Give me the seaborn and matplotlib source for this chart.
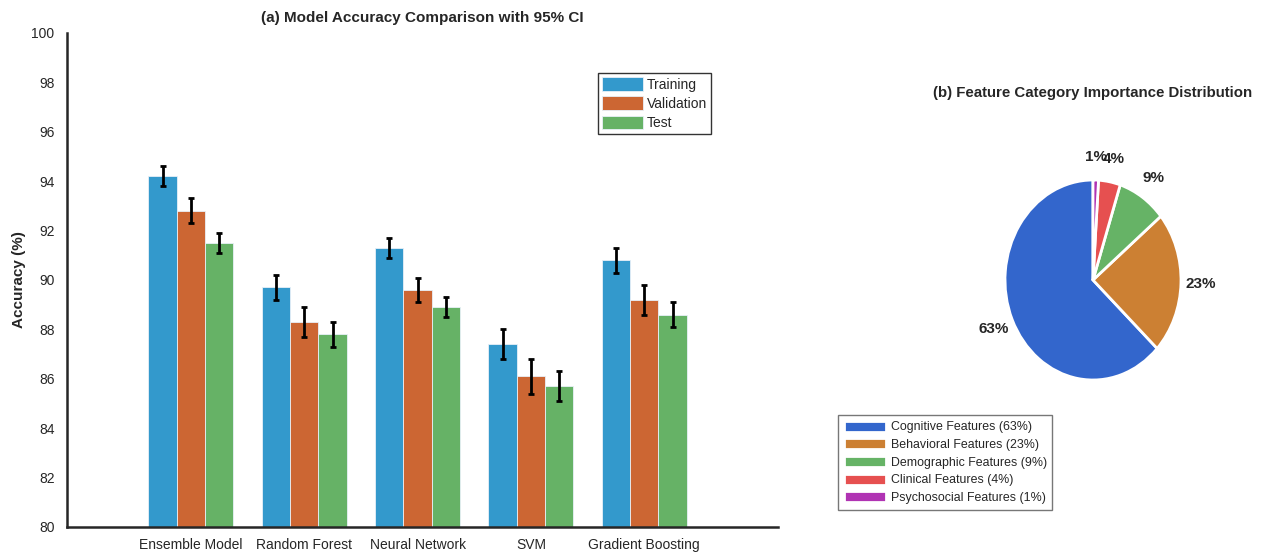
import numpy as np
import pandas as pd
import matplotlib
matplotlib.use("Agg")
import matplotlib.pyplot as plt
import seaborn as sns

# --- data ---
models = ["Ensemble Model", "Random Forest", "Neural Network", "SVM", "Gradient Boosting"]
splits = ["Training", "Validation", "Test"]
acc_train = [94.2, 89.7, 91.3, 87.4, 90.8]
acc_val = [92.8, 88.3, 89.6, 86.1, 89.2]
acc_test = [91.5, 87.8, 88.9, 85.7, 88.6]
ci_train = [0.4, 0.5, 0.4, 0.6, 0.5]
ci_val = [0.5, 0.6, 0.5, 0.7, 0.6]
ci_test = [0.4, 0.5, 0.4, 0.6, 0.5]

categories = ["Cognitive Features", "Behavioral Features", "Demographic Features",
              "Clinical Features", "Psychosocial Features"]
importance = [63, 23, 9, 4, 1]

bar_colors = {"Training": "#3399cc", "Validation": "#cc6633", "Test": "#66b266"}
pie_colors = ["#3366cc", "#cc8033", "#66b366", "#e65050", "#b033b3"]

# --- style ---
sns.set_style("white")
plt.rcParams['font.family'] = ['Liberation Sans', 'DejaVu Sans']

df = pd.DataFrame({
    "model": models * 3,
    "split": [s for s in splits for _ in models],
    "acc": acc_train + acc_val + acc_test,
})
ci = {"Training": ci_train, "Validation": ci_val, "Test": ci_test}

fig = plt.figure(figsize=(12.61, 5.52), dpi=100)

# --- (a) bar chart ---
ax = fig.add_axes([67 / 1261, 25 / 552, 711 / 1261, 494 / 552])
sns.barplot(data=df, x="model", y="acc", hue="split", order=models, hue_order=splits,
            palette=bar_colors, width=0.75, errorbar=None, saturation=1,
            edgecolor="#e8f0f8", linewidth=0.6, ax=ax)

for cont, s in zip(ax.containers, splits):
    xs = [p.get_x() + p.get_width() / 2 for p in cont.patches]
    ys = [p.get_height() for p in cont.patches]
    ax.errorbar(xs, ys, yerr=ci[s], fmt="none", ecolor="black", elinewidth=2,
                capsize=2.5, capthick=2, zorder=5)

ax.set_ylim(80, 100)
ax.set_yticks(np.arange(80, 101, 2))
ax.set_xlim(-1.094, 5.18)
ax.set_xlabel("")
ax.set_ylabel("Accuracy (%)", fontsize=11, fontweight="bold", labelpad=4)
ax.set_title("(a) Model Accuracy Comparison with 95% CI", fontsize=11, fontweight="bold", pad=8)
sns.despine(ax=ax)
for sp in ["left", "bottom"]:
    ax.spines[sp].set_linewidth(1.8)
    ax.spines[sp].set_color("#262626")
ax.tick_params(axis="both", direction="in", length=5, width=1.5, labelsize=10,
               colors="#262626", labelcolor="#262626")
ax.tick_params(axis="x", pad=8)
ax.tick_params(axis="y", pad=9)

sns.move_legend(ax, loc="upper left", bbox_to_anchor=(0.747, 0.919), title=None,
                fontsize=10, frameon=True, fancybox=False, edgecolor="black",
                handlelength=2.9, handleheight=1.1, labelspacing=0.35,
                handletextpad=0.3, borderpad=0.3, borderaxespad=0)
ax.get_legend().get_frame().set_linewidth(1.0)

# --- (b) pie chart ---
pax = fig.add_axes([1005 / 1261, 172 / 552, 176 / 1261, 200 / 552])
wedges, _, autotexts = pax.pie(importance, colors=pie_colors, startangle=90, counterclock=True,
                               autopct="%1.0f%%", pctdistance=1.23,
                               wedgeprops=dict(edgecolor="white", linewidth=2),
                               textprops=dict(fontsize=11, fontweight="bold"))
pax.set_aspect("auto")
pax.set_xlim(-1, 1)
pax.set_ylim(-1, 1)
pax.set_title("(b) Feature Category Importance Distribution", fontsize=10.8,
              fontweight="bold", y=1.415, pad=0)

leg_labels = [f"{c} ({v}%)" for c, v in zip(categories, importance)]
fig.legend(wedges, leg_labels, loc="upper left", bbox_to_anchor=(838 / 1261, 1 - 415 / 552),
           fontsize=8.9, frameon=True, fancybox=False, edgecolor="#555555",
           handlelength=3.4, handleheight=1.0, labelspacing=0.4,
           handletextpad=0.4, borderpad=0.45, borderaxespad=0)

plt.savefig("out.png", dpi=100)
